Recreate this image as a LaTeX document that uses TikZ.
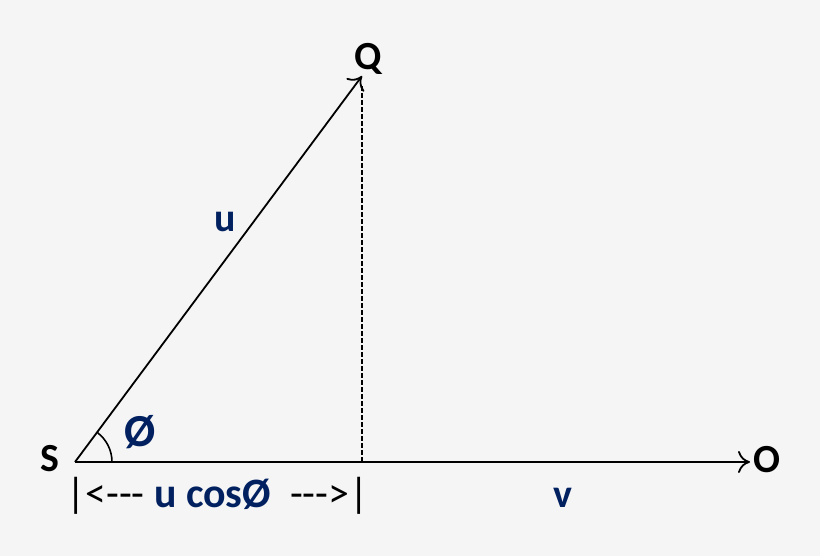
\documentclass[tikz,border=0pt]{standalone}
\usepackage{fontspec}
\setmainfont{Carlito}[Ligatures=NoCommon]
\usetikzlibrary{arrows.meta}
\definecolor{bg}{RGB}{245,245,245}
\definecolor{navy}{RGB}{0,32,96}
\begin{document}
\begin{tikzpicture}[x=1bp,y=1bp,
  lab/.style={font=\fontsize{40}{44}\selectfont\bfseries, inner sep=0pt},
  nlab/.style={lab, text=navy},
  vec/.style={line width=1.8bp, -{To[length=12bp,width=22bp,line width=1.8bp]}}]
\fill[bg] (0,0) rectangle (820,556);
\useasboundingbox (0,0) rectangle (820,556);
\coordinate (S) at (75,94);
\coordinate (Q) at (362,480);
\coordinate (O) at (750,94);
\coordinate (F) at (362,94);
\coordinate (D) at (362,471);
\coordinate (M) at (613,94);
\draw[line width=2.8bp] (S) -- (M);
\draw[vec, line width=2.2bp] (S) -- (O);
\draw[vec] (S) -- (Q);
\draw[line width=1.6bp, dash pattern=on 4.5bp off 2.5bp] (F) -- (D);
\draw[line width=1.6bp] ([shift={(0:37)}]S) arc[start angle=0,end angle=53.4,radius=37];
\node[lab] (sl) at (50,97) {S};
\node[lab] (ql) at (368,497) {Q};
\node[lab] (ol) at (767,96) {O};
\node[nlab] (ul) at (225,334) {u};
\node[nlab, font=\fontsize{46}{50}\selectfont\bfseries] (phi) at (140,124) {Ø};
\node[nlab] (vl) at (563,58) {v};
\node[inner sep=0pt, font=\fontsize{42}{46}\selectfont, anchor=base west] (dim) at (66,48) {|<-{}-{}- \textcolor{navy}{\bfseries u cosØ}\ \ -{}-{}->|};
\end{tikzpicture}
\end{document}
